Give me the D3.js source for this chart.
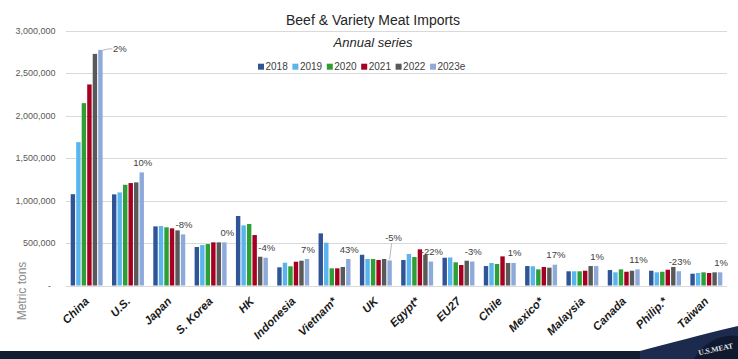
<!DOCTYPE html>
<html><head><meta charset="utf-8">
<script src="https://cdn.jsdelivr.net/npm/d3@7"></script>
<style>
html,body{margin:0;padding:0;background:#fff;}
svg{display:block;}
text{font-family:"Liberation Sans",Arial,sans-serif;}
</style></head>
<body>
<svg id="chart" width="738" height="359"></svg>
<script>
const categories = ["China","U.S.","Japan","S. Korea","HK","Indonesia","Vietnam*","UK","Egypt*","EU27","Chile","Mexico*","Malaysia","Canada","Philip.*","Taiwan"];
const years = ["2018","2019","2020","2021","2022","2023e"];
const v2018 = [1075000,1073000,696000,453000,818000,214000,614000,362000,300000,327000,229000,229000,167000,182000,174000,139000];
const v2019 = [1688000,1096000,700000,476000,708000,268000,504000,312000,371000,330000,265000,226000,167000,155000,155000,147000];
const v2020 = [2147000,1186000,685000,488000,724000,226000,202000,312000,335000,273000,253000,190000,167000,190000,162000,155000];
const v2021 = [2367000,1206000,673000,508000,594000,280000,202000,300000,426000,241000,343000,218000,174000,162000,186000,147000];
const v2022 = [2727000,1214000,649000,508000,339000,292000,218000,312000,359000,292000,265000,210000,229000,174000,218000,155000];
const v2023 = [2774000,1332000,602000,508000,327000,312000,312000,295000,282000,282000,265000,245000,229000,190000,168000,155000];
const changeLabels = ["2%","10%","-8%","0%","-4%","7%","43%","-5%","-22%","-3%","1%","17%","1%","11%","-23%","1%"];
const yTicks = [0,500000,1000000,1500000,2000000,2500000,3000000];
const colors = ["#2f5597","#5ab4ee","#2e9e37","#a50021","#595959","#8eaadb"];

const series = [v2018,v2019,v2020,v2021,v2022,v2023];
const svg = d3.select("#chart");

const x0 = d3.scaleBand().domain(categories).range([66, 727]).paddingInner(0).paddingOuter(0);
const x1 = d3.scaleBand().domain(years).range([0, x0.bandwidth()]).paddingInner(0.2).paddingOuter(0.85);
const y = d3.scaleLinear().domain([0, 3000000]).range([285.5, 30.7]);

// gridlines
svg.append("g").selectAll("line").data(yTicks).join("line")
  .attr("x1", 66).attr("x2", 727)
  .attr("y1", d => Math.round(y(d)) + 0.5).attr("y2", d => Math.round(y(d)) + 0.5)
  .attr("stroke", "#d9d9d9").attr("stroke-width", 1.2);

// y tick labels
svg.append("g").selectAll("text").data(yTicks).join("text")
  .attr("x", d => d === 0 ? 51 : 55.5)
  .attr("y", d => y(d) + 3.2)
  .attr("text-anchor", "end")
  .attr("font-size", 9)
  .attr("fill", "#595959")
  .text(d => d === 0 ? "-" : d3.format(",")(d));

// y axis title
svg.append("text")
  .attr("transform", "translate(26,291) rotate(-90)")
  .attr("text-anchor", "middle")
  .attr("font-size", 12)
  .attr("fill", "#8c8c8c")
  .text("Metric tons");

// bars
const groups = svg.append("g").selectAll("g").data(categories).join("g")
  .attr("transform", d => `translate(${x0(d)},0)`);
groups.selectAll("rect")
  .data((c, i) => years.map((yr, j) => ({yr, j, v: series[j][i]})))
  .join("rect")
  .attr("x", d => x1(d.yr))
  .attr("width", x1.bandwidth())
  .attr("y", d => y(d.v))
  .attr("height", d => y(0) - y(d.v))
  .attr("fill", d => colors[d.j]);

// change labels above 2023e bars
categories.forEach((c, i) => {
  const bx = x0(c) + x1("2023e") + x1.bandwidth() / 2;
  const by = y(v2023[i]);
  if (i === 0) {
    svg.append("path")
      .attr("d", `M${bx + 2},${by + 0.5} L${bx + 8},${by - 1} L${bx + 12},${by - 1}`)
      .attr("fill", "none").attr("stroke", "#a6a6a6").attr("stroke-width", 0.8);
    svg.append("text").attr("x", bx + 12.5).attr("y", by + 2.5)
      .attr("font-size", 9.5).attr("fill", "#404040").text(changeLabels[i]);
  } else if (c === "UK") {
    svg.append("line")
      .attr("x1", bx).attr("y1", by - 1).attr("x2", bx + 2).attr("y2", by - 17)
      .attr("stroke", "#a6a6a6").attr("stroke-width", 0.8);
    svg.append("text").attr("x", bx + 4).attr("y", by - 19)
      .attr("text-anchor", "middle")
      .attr("font-size", 9.5).attr("fill", "#404040").text(changeLabels[i]);
  } else {
    svg.append("text").attr("x", bx + (c === "S. Korea" ? 3 : 1)).attr("y", by - 6.5)
      .attr("text-anchor", "middle")
      .attr("font-size", 9.5).attr("fill", "#404040").text(changeLabels[i]);
  }
});

// x axis labels
svg.append("g").selectAll("text").data(categories).join("text")
  .attr("transform", d => `translate(${x0(d) + x0.bandwidth() / 2 + 3},302) rotate(-45)`)
  .attr("text-anchor", "end")
  .attr("font-size", 11.5)
  .attr("font-weight", "bold")
  .attr("font-style", "italic")
  .attr("fill", "#1a1a1a")
  .text(d => d);

// title
svg.append("text").attr("x", 373).attr("y", 25)
  .attr("text-anchor", "middle").attr("font-size", 14).attr("fill", "#262626")
  .text("Beef & Variety Meat Imports");
svg.append("text").attr("x", 373).attr("y", 47)
  .attr("text-anchor", "middle").attr("font-size", 13).attr("font-style", "italic").attr("fill", "#262626")
  .text("Annual series");

// legend
const legend = svg.append("g").selectAll("g").data(years).join("g")
  .attr("transform", (d, i) => `translate(${258 + i * 34.4},0)`);
legend.append("rect").attr("x", 0).attr("y", 63.7).attr("width", 6).attr("height", 6)
  .attr("fill", (d, i) => colors[i]);
legend.append("text").attr("x", 7.5).attr("y", 70).attr("font-size", 10).attr("fill", "#404040")
  .text(d => d);

// bottom band and logo corner
svg.append("rect").attr("x", 0).attr("y", 351).attr("width", 738).attr("height", 8).attr("fill", "#111c33");
svg.append("path")
  .attr("d", "M640,351 C670,343 700,335 738,326 L738,359 L640,359 Z")
  .attr("fill", "#1b2a4d");
svg.append("path")
  .attr("d", "M694,359 A44,44 0 0,1 738,336 L738,359 Z")
  .attr("fill", "#0f1a30");
svg.append("text").attr("x", 698).attr("y", 352)
  .attr("font-size", 7.5).attr("fill", "#e8e8e8").attr("font-weight", "bold")
  .attr("transform", "rotate(-12,714,349)")
  .style("font-family", "'Liberation Serif',serif")
  .text("U.S.MEAT");
</script>
</body></html>
